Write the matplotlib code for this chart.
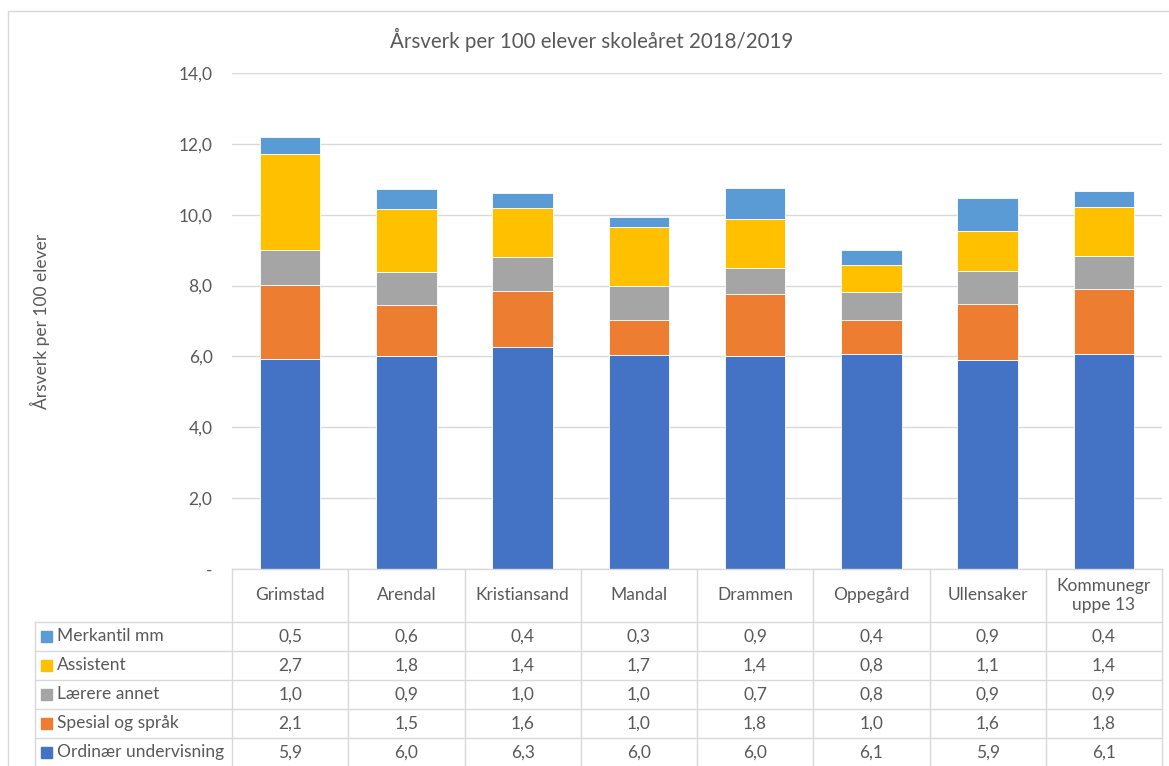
import matplotlib
matplotlib.use("Agg")
import matplotlib.pyplot as plt
from matplotlib.patches import Rectangle
from matplotlib.ticker import FuncFormatter, MultipleLocator

# ---- data ----
categories = ["Grimstad", "Arendal", "Kristiansand", "Mandal", "Drammen",
              "Oppegård", "Ullensaker", "Kommunegr\nuppe 13"]
ordinaer = [5.94, 6.00, 6.26, 6.04, 6.00, 6.06, 5.89, 6.06]
spesial = [2.07, 1.46, 1.58, 0.99, 1.76, 0.96, 1.60, 1.83]
laerere = [1.00, 0.91, 0.98, 0.97, 0.74, 0.81, 0.93, 0.94]
assistent = [2.71, 1.80, 1.36, 1.66, 1.38, 0.76, 1.13, 1.40]
merkantil = [0.46, 0.56, 0.42, 0.28, 0.87, 0.40, 0.93, 0.44]
series_names = ["Ordinær undervisning", "Spesial og språk", "Lærere annet",
                "Assistent", "Merkantil mm"]
title = "Årsverk per 100 elever skoleåret 2018/2019"
ylabel = "Årsverk per 100 elever"

series = [ordinaer, spesial, laerere, assistent, merkantil]
colors = ["#4472C4", "#ED7D31", "#A5A5A5", "#FFC000", "#5B9BD5"]

W, H = 1169, 766
plt.rcParams['font.family'] = ['Lato', 'DejaVu Sans']
TXT = "#595959"
GRID = "#d9d9d9"

fig = plt.figure(figsize=(W / 100, H / 100), dpi=100)

def fx(px):
    return px / W

def fy(py):
    return 1 - py / H

# outer chart border
fig.patches.append(Rectangle((fx(8), fy(H + 5)), fx(W + 10) - fx(8), fy(11) - fy(H + 5),
                             transform=fig.transFigure, fill=False,
                             edgecolor=GRID, linewidth=1.0))

# main plot axes
left_px, right_px, top_px, base_px = 232, 1162, 73, 569
ax = fig.add_axes([fx(left_px), fy(base_px), fx(right_px - left_px), (base_px - top_px) / H])
n = len(categories)
x = list(range(n))
bottom = [0.0] * n
for vals, c, name in zip(series, colors, series_names):
    ax.bar(x, vals, width=0.52, bottom=bottom, color=c, edgecolor="white",
           linewidth=0.6, label=name, zorder=3)
    bottom = [b + v for b, v in zip(bottom, vals)]

ax.set_xlim(-0.5, n - 0.5)
ax.set_ylim(0, 14)
ax.yaxis.set_major_locator(MultipleLocator(2))
ax.yaxis.set_major_formatter(FuncFormatter(
    lambda v, p: "-" if abs(v) < 1e-9 else f"{v:.1f}".replace(".", ",")))
ax.tick_params(axis="y", length=0, pad=14, labelsize=12.5, labelcolor=TXT)
ax.set_xticks([])
for s in ax.spines.values():
    s.set_visible(False)
ax.grid(axis="y", color=GRID, linewidth=1.0, zorder=0)
ax.set_axisbelow(True)

fig.text(fx(40), fy(321), ylabel, rotation=90, ha="center", va="center",
         fontsize=12.5, color=TXT)
fig.text(fx(592), fy(40), title, ha="center", va="center", fontsize=14.8, color=TXT)

# ---- data table ----
tab_left, tab_bottom = 35, 767
unit = (right_px - left_px) / n
x0 = -0.5 - (left_px - tab_left) / unit
tab = fig.add_axes([fx(tab_left), fy(tab_bottom), fx(right_px - tab_left),
                    (tab_bottom - base_px) / H])
tab.set_xlim(x0, n - 0.5)
tab.set_ylim(tab_bottom, base_px)
tab.axis("off")

header_bottom = 622
row_h = 29
row_order = list(range(len(series)))[::-1]  # Merkantil on top
row_tops = [header_bottom + i * row_h for i in range(len(series))]

lw = 1.0
# top line and vertical lines of category columns
tab.plot([-0.5, n - 0.5], [base_px, base_px], color=GRID, lw=lw, clip_on=False)
for k in range(n + 1):
    tab.plot([k - 0.5, k - 0.5], [base_px, tab_bottom + 5], color=GRID, lw=lw, clip_on=False)
tab.plot([x0, x0], [header_bottom, tab_bottom + 5], color=GRID, lw=lw, clip_on=False)
for yt in row_tops:
    tab.plot([x0, n - 0.5], [yt, yt], color=GRID, lw=lw, clip_on=False)

# header labels
for i, cat in enumerate(categories):
    tab.text(i, (base_px + header_bottom) / 2, cat, ha="center", va="center",
             fontsize=12.5, color=TXT, linespacing=1.25)

sq = 11 / unit
for r, si in enumerate(row_order):
    yc = row_tops[r] + row_h / 2
    tab.add_patch(Rectangle((x0 + 6 / unit, yc - 5.5), sq, 11, color=colors[si],
                            clip_on=False))
    tab.text(x0 + 22 / unit, yc, series_names[si], ha="left", va="center",
             fontsize=12.5, color=TXT)
    for i, v in enumerate(series[si]):
        tab.text(i, yc, f"{v:.1f}".replace(".", ","), ha="center", va="center",
                 fontsize=12.5, color=TXT)

fig.savefig("out.png", dpi=100)
